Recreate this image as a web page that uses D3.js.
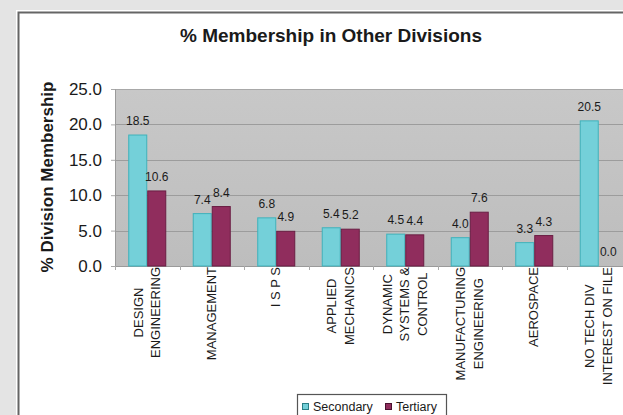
<!DOCTYPE html>
<html><head><meta charset="utf-8">
<script src="https://cdn.jsdelivr.net/npm/d3@7"></script>
<style>html,body{margin:0;padding:0;background:#e4e4e4;overflow:hidden}svg{display:block}text{font-family:"Liberation Sans",Arial,sans-serif;fill:#1a1a1a}</style>
</head><body>
<svg id="c" width="623" height="415"></svg>
<script>
const categories = ["DESIGN|ENGINEERING","MANAGEMENT","I S P S","APPLIED|MECHANICS","DYNAMIC|SYSTEMS &|CONTROL","MANUFACTURING|ENGINEERING","AEROSPACE","NO TECH DIV|INTEREST ON FILE"];
const seriesNames = ["Secondary","Tertiary"];
const secondary = [18.5, 7.4, 6.8, 5.4, 4.5, 4.0, 3.3, 20.5];
const tertiary  = [10.6, 8.4, 4.9, 5.2, 4.4, 7.6, 4.3, 0.0];
const yTicks = [0, 5, 10, 15, 20, 25];
const colors = ["#74d0d9", "#902d5d"];
const strokes = ["#3fb2bb", "#6a1e44"];

(function(){
const svg = d3.select("#c");
svg.append("rect").attr("x",0).attr("y",0).attr("width",623).attr("height",415).attr("fill","#e4e4e4");
svg.append("rect").attr("x",16.5).attr("y",10.5).attr("width",640).attr("height",440).attr("fill","#fff").attr("stroke","#fff");
svg.append("rect").attr("x",18.5).attr("y",12.5).attr("width",640).attr("height",440).attr("fill","#fff").attr("stroke","#656565").attr("stroke-width",2);

const pLeft = 115, pRight = 631, pTop = 89, pBottom = 266;
const x = d3.scaleBand().domain(categories).range([pLeft, pRight]).paddingInner(0).paddingOuter(0);
const xs = d3.scaleBand().domain(seriesNames).range([0, x.bandwidth()]).paddingInner(0).paddingOuter(0.697);
const y = d3.scaleLinear().domain([0, 25]).range([pBottom, pTop]);

const defs = svg.append("defs");
const g = defs.append("linearGradient").attr("id","pg").attr("x1",0).attr("y1",0).attr("x2",0).attr("y2",1);
g.append("stop").attr("offset","0%").attr("stop-color","#c8c8c8");
g.append("stop").attr("offset","100%").attr("stop-color","#bdbdbd");

svg.append("rect").attr("x",pLeft).attr("y",pTop).attr("width",pRight-pLeft).attr("height",pBottom-pTop).attr("fill","url(#pg)");

svg.append("g").selectAll("line").data(yTicks).join("line")
  .attr("x1",pLeft).attr("x2",pRight).attr("y1",d=>Math.round(y(d))+0.5).attr("y2",d=>Math.round(y(d))+0.5)
  .attr("stroke",d=>d===25?"#a8a8a8":"#9c9c9c").attr("stroke-width",1);

const ya = svg.append("g").attr("transform",`translate(${pLeft},0)`)
  .call(d3.axisLeft(y).tickValues(yTicks).tickFormat(d3.format(".1f")).tickSize(4).tickPadding(9));
ya.select(".domain").attr("stroke","#9a9a9a");
ya.selectAll(".tick line").attr("stroke","#aaa");
ya.selectAll(".tick text").attr("font-size",17).attr("fill","#1a1a1a").attr("font-family","'Liberation Sans',Arial,sans-serif");

const xa = svg.append("g").attr("transform",`translate(0,${pBottom})`)
  .call(d3.axisBottom(x).tickValues([]).tickSize(0).tickSizeOuter(0));
xa.select(".domain").attr("stroke","#9a9a9a");
svg.append("g").selectAll("line").data(categories).join("line")
  .attr("x1",d=>Math.round(x(d))+0.5).attr("x2",d=>Math.round(x(d))+0.5)
  .attr("y1",pBottom).attr("y2",pBottom+4).attr("stroke","#aaa");

const data = categories.map((c,i)=>({c, vals:[secondary[i], tertiary[i]]}));
const grp = svg.append("g").selectAll("g").data(data).join("g").attr("transform",d=>`translate(${x(d.c)},0)`);
grp.selectAll("rect").data(d=>d.vals.map((v,j)=>({v,j}))).join("rect")
  .attr("x",d=>xs(seriesNames[d.j])+0.5).attr("width",xs.bandwidth()-1)
  .attr("y",d=>y(d.v)).attr("height",d=>Math.max(0,pBottom-y(d.v)))
  .attr("fill",d=>colors[d.j]).attr("stroke",d=>strokes[d.j]).attr("stroke-width",1)
  .attr("display",d=>d.v>0?null:"none");
grp.selectAll("text").data(d=>d.vals.map((v,j)=>({v,j}))).join("text")
  .attr("x",d=>xs(seriesNames[d.j])+xs.bandwidth()/2).attr("y",d=>y(d.v)-10)
  .attr("text-anchor","middle").attr("font-size",12).text(d=>d.v.toFixed(1));

const lg = 17.5;
categories.forEach(c=>{
  const lines = c.split("|");
  const cx = x(c)+x.bandwidth()/2 - 0.5;
  const gl = svg.append("g");
  const ts = lines.map((t,k)=>gl.append("text").attr("font-size",13).attr("text-anchor","middle").attr("dy","0.35em").text(t));
  const maxLen = d3.max(ts,t=>t.node().getComputedTextLength());
  const cy = pBottom + 1 + maxLen/2;
  ts.forEach((t,k)=>{
    const lx = cx + (k-(lines.length-1)/2)*lg;
    t.attr("transform",`translate(${lx},${cy}) rotate(-90)`);
  });
});

svg.append("text").attr("x",331).attr("y",42).attr("text-anchor","middle").attr("font-size",19).attr("font-weight","bold").text("% Membership in Other Divisions");
svg.append("text").attr("transform","translate(53,177) rotate(-90)").attr("text-anchor","middle").attr("font-size",17).attr("font-weight","bold").text("% Division Membership");

const leg = svg.append("g");
leg.append("rect").attr("x",297.5).attr("y",394.5).attr("width",149).attr("height",30).attr("fill","#fff").attr("stroke","#555").attr("stroke-width",1.2);
const lx0 = [302, 385];
seriesNames.forEach((s,j)=>{
  leg.append("rect").attr("x",lx0[j]+0.5).attr("y",403.5).attr("width",6).attr("height",6).attr("fill",colors[j]).attr("stroke",j?"#4a1030":"#2a7f86");
  leg.append("text").attr("x",lx0[j]+11).attr("y",411).attr("font-size",12.5).text(s);
});
})();
</script>
</body></html>
